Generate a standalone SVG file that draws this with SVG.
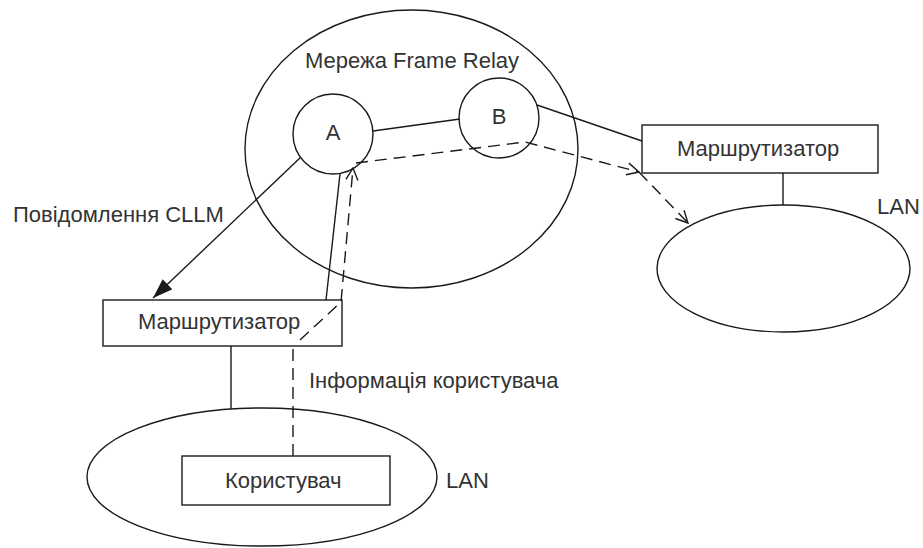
<svg xmlns="http://www.w3.org/2000/svg" width="923" height="548" viewBox="0 0 923 548">
  <style>
    .shape { fill: none; stroke: #1a1a1a; stroke-width: 1.4; }
    .line { fill: none; stroke: #1a1a1a; stroke-width: 1.4; }
    .dash { fill: none; stroke: #1a1a1a; stroke-width: 1.4; stroke-dasharray: 12 7; }
    .label { font-family: "Liberation Sans", Arial, sans-serif; font-size: 22px; fill: #333; }
    .mid { text-anchor: middle; }
  </style>
  <defs>
    <marker id="filled" viewBox="0 0 20 14" refX="20" refY="7" markerWidth="20" markerHeight="14" markerUnits="userSpaceOnUse" orient="auto">
      <path d="M0,0 L20,7 L0,14 Z" fill="#1a1a1a"/>
    </marker>
    <marker id="open" viewBox="0 0 14 14" refX="13" refY="7" markerWidth="14" markerHeight="14" markerUnits="userSpaceOnUse" orient="auto">
      <path d="M1,1 L13,7 L1,13" fill="none" stroke="#1a1a1a" stroke-width="1.4"/>
    </marker>
  </defs>
  <rect width="923" height="548" fill="#fff"/>

  <!-- Frame Relay network -->
  <g id="network">
    <ellipse class="shape" cx="411.5" cy="149" rx="166.5" ry="139"/>
    <text class="label mid" x="412" y="68">Мережа Frame Relay</text>
  </g>

  <g id="nodeA">
    <circle class="shape" cx="333" cy="134" r="40"/>
    <text class="label mid" x="333" y="140">A</text>
  </g>

  <g id="nodeB">
    <circle class="shape" cx="499" cy="118" r="40"/>
    <text class="label mid" x="499" y="124">B</text>
  </g>

  <!-- Left router and user LAN -->
  <g id="router-left">
    <rect class="shape" x="103" y="300" width="239" height="46"/>
    <text class="label" x="138" y="329">Маршрутизатор</text>
  </g>

  <g id="lan-left">
    <ellipse class="shape" cx="262" cy="477" rx="175" ry="69"/>
    <text class="label" x="446" y="488">LAN</text>
  </g>

  <g id="user">
    <rect class="shape" x="182" y="456" width="208" height="49"/>
    <text class="label" x="225" y="488">Користувач</text>
  </g>

  <!-- Right router and LAN -->
  <g id="router-right">
    <rect class="shape" x="642" y="125" width="236" height="48"/>
    <text class="label" x="677" y="156">Маршрутизатор</text>
  </g>

  <g id="lan-right">
    <ellipse class="shape" cx="783.5" cy="268.5" rx="126.5" ry="63.5"/>
    <text class="label" x="877" y="214">LAN</text>
  </g>

  <!-- Connectors -->
  <g id="connectors">
    <line class="line" x1="373" y1="131" x2="460" y2="119"/>
    <line class="line" x1="537" y1="105" x2="642" y2="141"/>
    <line class="line" x1="783" y1="173" x2="783" y2="205"/>
    <line class="line" x1="231" y1="346" x2="231" y2="409"/>
    <line class="line" x1="340" y1="174" x2="326" y2="300"/>
    <line class="line" x1="301" y1="157" x2="153" y2="298" marker-end="url(#filled)"/>

    <!-- user data path -->
    <polyline class="dash" points="293,456 293,347"/>
    <polyline class="dash" points="300,340 341,302 353,168" marker-end="url(#open)"/>
    <polyline class="dash" points="356,163 525,142 639,172" marker-end="url(#open)"/>
    <line class="dash" x1="639" y1="172" x2="688" y2="223" marker-end="url(#open)"/>

    <text class="label" x="309" y="388">Інформація користувача</text>
    <text class="label" x="13" y="222">Повідомлення CLLM</text>
  </g>
</svg>
